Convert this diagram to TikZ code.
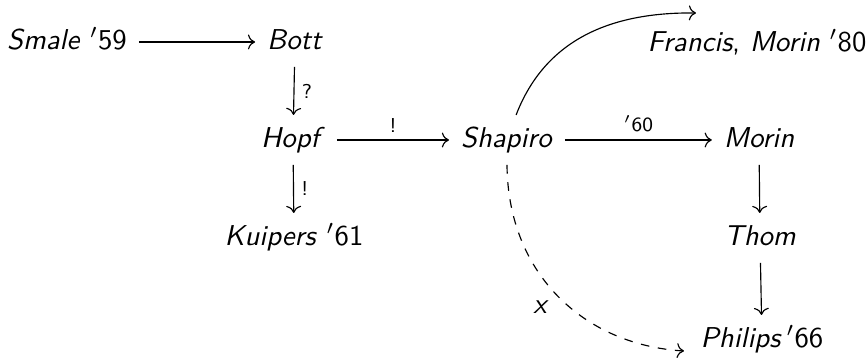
\documentclass[tikz,border=0pt]{standalone}
\usetikzlibrary{cd}
\begin{document}
\begin{tikzpicture}[x=0.348pt,y=-0.348pt,
  obj/.style={font=\sffamily, inner sep=4pt, text height=7pt, text depth=2pt},
  lab/.style={font=\sffamily\scriptsize, inner sep=2.5pt},
  arr/.style={draw, line width=0.4pt, -{cm to}},
  darr/.style={arr, dashed}]
\useasboundingbox (0,0) rectangle (867,360);
% nodes
\node[obj] (smale) at (67,42) {\textit{Smale} $'$59};
\node[obj] (bott) at (295,42) {\textit{Bott}};
\node[obj] (hopf) at (293,140) {\textit{Hopf}};
\node[obj] (kuip) at (294,238) {\textit{Kuipers} $'$61};
\node[obj] (shap) at (507,140) {\textit{Shapiro}};
\node[obj] (morin) at (759,140) {\textit{Morin}};
\node[obj] (thom) at (760,238) {\textit{Thom}};
\node[obj] (phil) at (762,340) {\textit{Philips}\,$'$66};
\node[obj] (fran) at (757,44) {\textit{Francis}, \textit{Morin} $'$80};
\coordinate (franin) at (696,13);
\coordinate (philin) at (684,351);
\node[font=\sffamily\itshape, inner sep=0pt] (xlab) at (540,307) {x};
% arrows
\draw[arr] (smale) -- (bott);
\draw[arr] (bott) -- node[lab, right] {?} (hopf);
\draw[arr] (hopf) -- node[lab, right] {!} (kuip);
\draw[arr] (hopf) -- node[lab, above] {!} (shap);
\draw[arr] (shap) -- node[lab, above] {$'$60} (morin);
\draw[arr] (morin) -- (thom);
\draw[arr] (thom) -- (phil);
\draw[arr] (shap.70) .. controls (545,40) and (610,12) .. (franin);
\draw[darr] (shap.south) .. controls (508,275) and (585,345) .. (philin);
\end{tikzpicture}
\end{document}
